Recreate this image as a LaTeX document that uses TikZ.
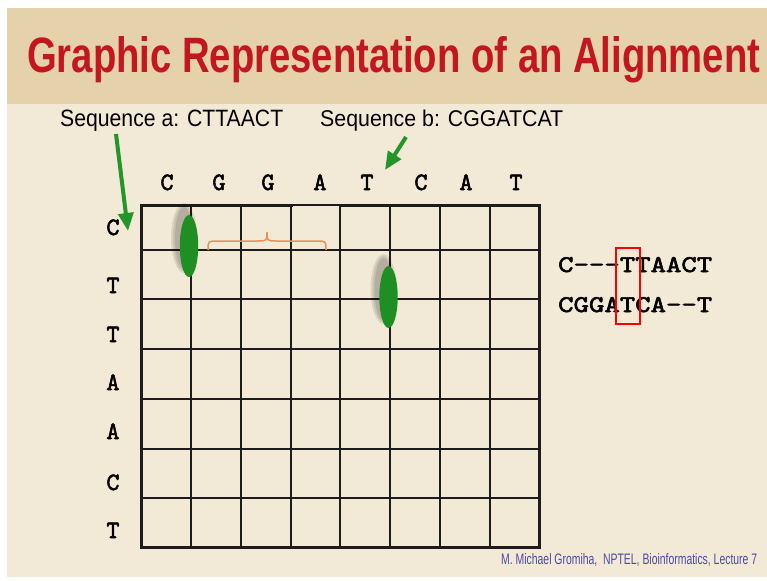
\documentclass[tikz,border=0pt]{standalone}
\usepackage{fontspec}
\usepackage{graphicx}
\newfontfamily\arialf{Liberation Sans}
\newfontfamily\monof[Extension=.otf, FakeBold=2.2]{lmmono10-regular}
\usetikzlibrary{arrows.meta}
\definecolor{bandc}{HTML}{E5D2AA}
\definecolor{bodyc}{HTML}{F2EAD6}
\definecolor{titlered}{HTML}{C3161F}
\definecolor{arrowgreen}{HTML}{23962A}
\definecolor{ellgreen}{HTML}{1F8F24}
\definecolor{braceorange}{HTML}{E8925A}
\definecolor{footblue}{HTML}{4A4AA8}
\definecolor{gridc}{HTML}{1C1C1C}
\newcommand\hy{\mbox{-}}
\tikzset{
  txt/.style={anchor=base west, inner sep=0pt},
  seqletter/.style={anchor=base, inner sep=0pt, font=\monof\fontsize{25}{25}\selectfont},
  greenarrow/.style={draw=arrowgreen, line width=4pt, -{Triangle[length=18pt,width=15pt]}},
  thinline/.style={draw=gridc, line width=1.3pt},
  thickline/.style={draw=gridc, line width=3pt, line cap=rect},
  spot/.style={fill=ellgreen},
}
\begin{document}
\begin{tikzpicture}[x=1pt,y=-1pt]
\useasboundingbox (0,0) rectangle (767,580);
\fill[white] (0,0) rectangle (767,580);
\fill[bodyc] (7,8) rectangle (767,577);
\fill[bandc] (7,8) rectangle (767,104);
% title
\node (title) [txt, text=titlered] at (27,73) {\resizebox{733pt}{36pt}{\arialf\bfseries Graphic Representation of an Alignment}};
% labels
\node (seqa) [txt] at (60,127) {\resizebox{223pt}{16.5pt}{\arialf Sequence a: CTTAACT}};
\node (seqb) [txt] at (320,127) {\resizebox{243pt}{16.5pt}{\arialf Sequence b: CGGATCAT}};
% grid
\foreach \x in {191,241,291,340,390,440,490} \draw[thinline] (\x,205) -- (\x,547);
\foreach \y in {250,299,349,399,449,498} \draw[thinline] (141,\y) -- (539,\y);
\draw[thinline] (291,205) -- (340,205);
\draw[thickline] (291,205) -- (141,205) -- (141,547) -- (539,547) -- (539,205) -- (340,205);
% column letters
\foreach \x/\l [count=\i] in {167/C,219/G,268/G,320/A,367/T,421/C,466/A,516/T}
  \node (col\i) [seqletter] at (\x,190) {\l};
% row letters
\foreach \y/\l [count=\i] in {235/C,293/T,342/T,390/A,439/A,490/C,538/T}
  \node (row\i) [seqletter] at (113,\y) {\l};
% arrows
\coordinate (aStart) at (116,134);
\coordinate (aTip) at (128,231);
\coordinate (bStart) at (406,137);
\coordinate (bTip) at (385,170);
\draw[greenarrow] (aStart) -- (aTip);
\draw[greenarrow] (bStart) -- (bTip);
% ellipse shadows and spots
\foreach \cx/\cy in {189/246, 388.5/297}{
  \foreach \k in {0,2,4}
    \fill[black, opacity=.09] (\cx-5,\cy-8) ellipse [x radius={9pt+\k pt}, y radius={31pt+\k pt}];
  \fill[spot] (\cx,\cy) ellipse [x radius=9.2pt, y radius=31pt];
}
% brace
\draw[braceorange, line width=1.5pt] (208,250) .. controls (208,241) .. (218,241) -- (257,241)
  .. controls (267,241) .. (267,232) .. controls (267,241) .. (277,241) -- (316,241)
  .. controls (326,241) .. (326,250);
% alignment
\node (alnA) [txt] at (558,272) {\resizebox{154pt}{15pt}{\monof C\hy\hy\hy TTAACT}};
\node (alnB) [txt] at (558,312) {\resizebox{154pt}{15pt}{\monof CGGATCA\hy\hy T}};
\node (hl) [draw=red, line width=2.5pt, minimum width=24pt, minimum height=76pt, inner sep=0pt] at (628,286) {};
% footer
\node (foot) [txt, text=footblue] at (501,564) {\resizebox{256pt}{11pt}{\arialf M. Michael Gromiha,\ \ NPTEL, Bioinformatics, Lecture 7}};
\end{tikzpicture}
\end{document}
